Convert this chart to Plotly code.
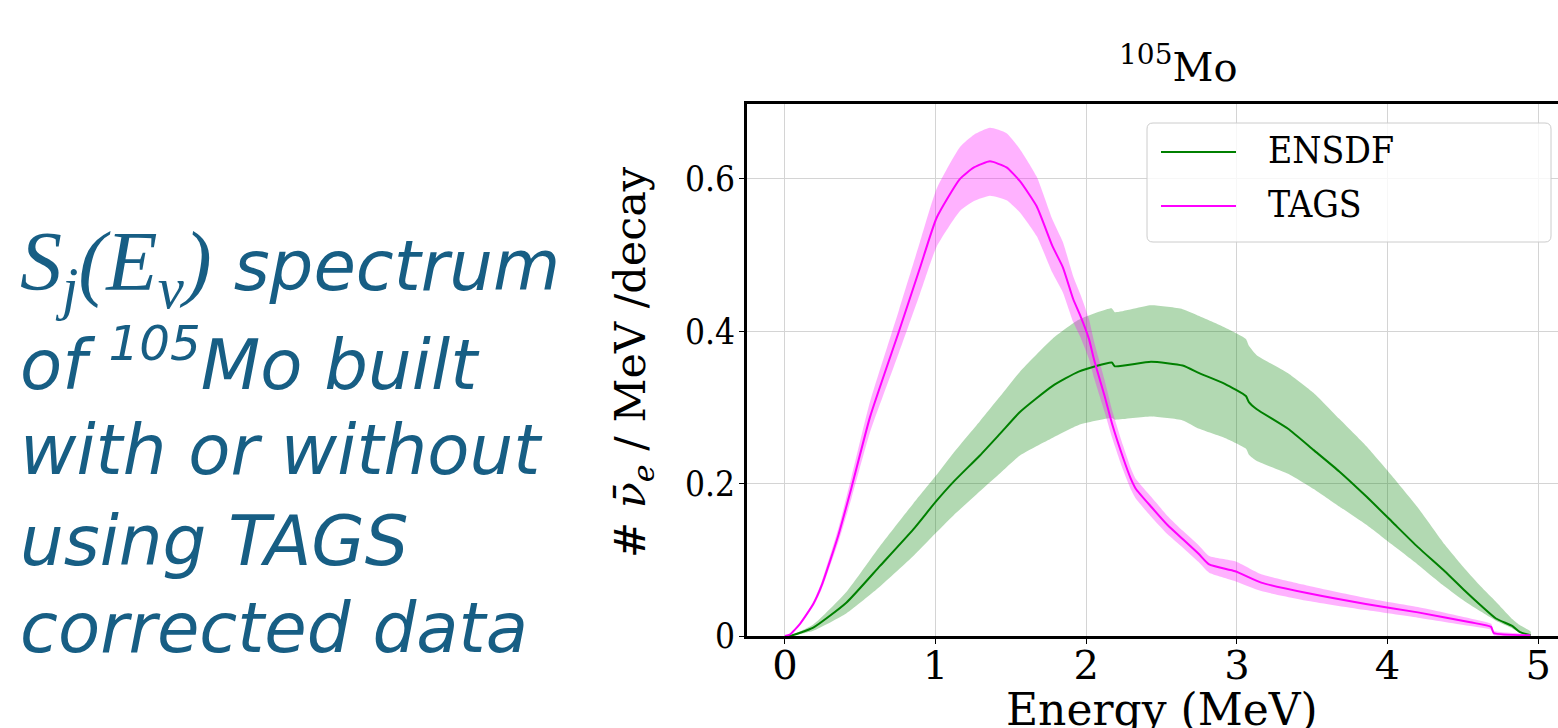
import plotly.graph_objects as go

# ---------------- data ----------------
E_ensdf = [0.0, 0.04, 0.188, 0.409, 0.631, 0.852, 1.0, 1.117, 1.294, 1.43,
           1.56, 1.775, 1.95, 2.17, 2.19, 2.43, 2.64, 2.75, 2.92, 3.06,
           3.08, 3.13, 3.34, 3.51, 3.68, 3.86, 4.03, 4.20, 4.38, 4.51,
           4.62, 4.72, 4.83, 4.88, 4.95]
ensdf = [0, 0.0005, 0.011, 0.044, 0.092, 0.140, 0.176, 0.202, 0.237, 0.266,
         0.294, 0.328, 0.347, 0.359, 0.354, 0.360, 0.355, 0.345, 0.331, 0.315,
         0.307, 0.298, 0.272, 0.244, 0.216, 0.183, 0.150, 0.117, 0.085, 0.060,
         0.040, 0.023, 0.013, 0.005, 0.001]
ensdf_lo = [0, 0.0003, 0.007, 0.030, 0.065, 0.105, 0.135, 0.158, 0.190, 0.214,
            0.237, 0.260, 0.277, 0.286, 0.284, 0.288, 0.283, 0.272, 0.260, 0.246,
            0.238, 0.230, 0.213, 0.193, 0.170, 0.146, 0.120, 0.094, 0.065, 0.046,
            0.032, 0.020, 0.010, 0.004, 0.000]
ensdf_hi = [0, 0.0008, 0.015, 0.058, 0.118, 0.174, 0.210, 0.240, 0.282, 0.315,
            0.347, 0.390, 0.415, 0.430, 0.425, 0.434, 0.429, 0.420, 0.405, 0.390,
            0.381, 0.369, 0.345, 0.319, 0.285, 0.249, 0.210, 0.169, 0.120, 0.089,
            0.065, 0.045, 0.022, 0.014, 0.006]

E_tags = [0.0, 0.033, 0.10, 0.188, 0.243, 0.354, 0.442, 0.564, 0.757, 0.896,
          1.007, 1.162, 1.255, 1.361, 1.471, 1.56, 1.671, 1.775, 1.845, 1.914,
          1.966, 2.018, 2.053, 2.122, 2.174, 2.243, 2.295, 2.330, 2.434, 2.538,
          2.642, 2.746, 2.816, 2.989, 3.162, 3.474, 3.856, 4.202, 4.55, 4.688,
          4.705, 4.948]
tags = [0, 0.002, 0.016, 0.042, 0.066, 0.132, 0.195, 0.287, 0.400, 0.483,
        0.549, 0.600, 0.615, 0.623, 0.615, 0.597, 0.564, 0.512, 0.484, 0.442,
        0.418, 0.390, 0.362, 0.315, 0.277, 0.235, 0.207, 0.193, 0.169, 0.146,
        0.127, 0.108, 0.094, 0.085, 0.070, 0.056, 0.042, 0.031, 0.018, 0.012,
        0.004, 0.001]
tags_lo = [0, 0.002, 0.015, 0.039, 0.061, 0.123, 0.181, 0.267, 0.372, 0.449,
           0.511, 0.558, 0.571, 0.578, 0.572, 0.556, 0.525, 0.477, 0.451, 0.412,
           0.390, 0.364, 0.338, 0.294, 0.259, 0.219, 0.193, 0.180, 0.156, 0.134,
           0.116, 0.097, 0.083, 0.072, 0.059, 0.046, 0.034, 0.024, 0.013, 0.008,
           0.001, 0.000]
tags_hi = [0, 0.002, 0.017, 0.045, 0.071, 0.141, 0.209, 0.307, 0.428, 0.517,
           0.587, 0.642, 0.658, 0.667, 0.660, 0.639, 0.603, 0.547, 0.517, 0.472,
           0.446, 0.416, 0.386, 0.336, 0.295, 0.251, 0.221, 0.206, 0.182, 0.158,
           0.138, 0.119, 0.105, 0.098, 0.081, 0.066, 0.050, 0.038, 0.023, 0.016,
           0.007, 0.002]

x_ticks = [0, 1, 2, 3, 4, 5]
y_ticks = [0, 0.2, 0.4, 0.6]
y_ticktext = ["0", "0.2", "0.4", "0.6"]
series_names = ["ENSDF", "TAGS"]

# ---------------- layout helpers ----------------
W, H = 1558, 728
L, R, T, B = 747, 0, 104, 92
PW, PH = W - L - R, H - T - B


def px(x):
    return (x - L) / PW


def py(y):
    return (H - B - y) / PH


GREEN = "#008000"
MAGENTA = "#ff00ff"
SERIF = "DejaVu Serif"
SERIF_C = "DejaVu Serif Condensed"
SPL = dict(shape="spline", smoothing=0.5)

fig = go.Figure()

# bands
fig.add_trace(go.Scatter(x=E_ensdf + E_ensdf[::-1], y=ensdf_hi + ensdf_lo[::-1],
                         fill="toself", fillcolor="rgba(0,128,0,0.3)",
                         line=dict(width=0, **SPL),
                         mode="lines", hoverinfo="skip", showlegend=False))
fig.add_trace(go.Scatter(x=E_tags + E_tags[::-1], y=tags_hi + tags_lo[::-1],
                         fill="toself", fillcolor="rgba(255,0,255,0.3)",
                         line=dict(width=0, **SPL),
                         mode="lines", hoverinfo="skip", showlegend=False))
# central lines
fig.add_trace(go.Scatter(x=E_ensdf, y=ensdf, mode="lines", name=series_names[0],
                         line=dict(color=GREEN, width=2, **SPL), showlegend=False))
fig.add_trace(go.Scatter(x=E_tags, y=tags, mode="lines", name=series_names[1],
                         line=dict(color=MAGENTA, width=2, **SPL), showlegend=False))

fig.update_layout(
    width=W, height=H,
    margin=dict(l=L, r=R, t=T, b=B),
    paper_bgcolor="white", plot_bgcolor="white",
    showlegend=False,
)
fig.update_xaxes(range=[-0.252, 5.132], tickvals=x_ticks,
                 showgrid=True, gridcolor="#d4d4d4", gridwidth=1,
                 showline=True, linewidth=3, linecolor="black", mirror=True,
                 ticks="outside", ticklen=5, tickcolor="black", tickwidth=1,
                 ticklabelstandoff=-13,
                 tickfont=dict(family=SERIF, size=40, color="black"),
                 zeroline=False)
fig.update_yaxes(range=[0, 0.6983], tickvals=y_ticks, ticktext=y_ticktext,
                 showgrid=True, gridcolor="#d4d4d4", gridwidth=1,
                 showline=True, linewidth=3, linecolor="black",
                 ticks="outside", ticklen=5, tickcolor="black", tickwidth=1,
                 ticklabelstandoff=-3,
                 tickfont=dict(family=SERIF_C, size=35, color="black"),
                 zeroline=False)

ann = []
# title
ann.append(dict(text="<sup>105</sup>Mo", x=px(1178), y=py(64), xref="paper", yref="paper",
                xanchor="center", yanchor="middle", showarrow=False,
                font=dict(family=SERIF, size=40, color="black")))
# x axis title
ann.append(dict(text="Energy (MeV)", x=px(1162), y=py(682), xref="paper", yref="paper",
                xanchor="center", yanchor="top", showarrow=False,
                font=dict(family=SERIF, size=44, color="black")))
# y axis title
ann.append(dict(text="# <i>ν̄</i><sub><i>e</i></sub> / MeV /decay", x=px(633), y=py(362),
                xref="paper", yref="paper", textangle=-90,
                xanchor="center", yanchor="middle", showarrow=False,
                font=dict(family=SERIF, size=43, color="black")))

# legend (drawn manually)
lx0, lx1, ly0, ly1, rr = 1147, 1551, 123, 242, 6
path = (f"M {px(lx0 + rr)},{py(ly0)} L {px(lx1 - rr)},{py(ly0)} "
        f"Q {px(lx1)},{py(ly0)} {px(lx1)},{py(ly0 + rr)} "
        f"L {px(lx1)},{py(ly1 - rr)} Q {px(lx1)},{py(ly1)} {px(lx1 - rr)},{py(ly1)} "
        f"L {px(lx0 + rr)},{py(ly1)} Q {px(lx0)},{py(ly1)} {px(lx0)},{py(ly1 - rr)} "
        f"L {px(lx0)},{py(ly0 + rr)} Q {px(lx0)},{py(ly0)} {px(lx0 + rr)},{py(ly0)} Z")
shapes = [dict(type="path", path=path, xref="paper", yref="paper",
               fillcolor="rgba(255,255,255,0.8)", line=dict(color="#cccccc", width=1),
               layer="above")]
for name, col, yy in [(series_names[0], GREEN, 152), (series_names[1], MAGENTA, 206)]:
    shapes.append(dict(type="line", x0=px(1161), x1=px(1236), y0=py(yy), y1=py(yy),
                       xref="paper", yref="paper", line=dict(color=col, width=2)))
    ann.append(dict(text=name, x=px(1266), y=py(yy - 2), xref="paper", yref="paper",
                    xanchor="left", yanchor="middle", showarrow=False,
                    font=dict(family=SERIF_C, size=37, color="black")))

# left-side explanatory text
TXT = "#175e84"
MATH = "Liberation Serif"
lines = [
    (f"<span style='font-family:{MATH};font-size:84px'><i>S</i><sub><i>j</i></sub>(<i>E</i><sub><i>ν</i></sub>)</span> spectrum", 268),
    ("of <sup>105</sup>Mo built", 360),
    ("with or without", 450),
    ("using TAGS", 541),
    ("corrected data", 628),
]
for txt, yc in lines:
    ann.append(dict(text=f"<i>{txt}</i>", x=px(18), y=py(yc), xref="paper", yref="paper",
                    xanchor="left", yanchor="middle", showarrow=False,
                    font=dict(family="DejaVu Sans", size=69, color=TXT)))

fig.update_layout(annotations=ann, shapes=shapes)
fig.write_html("out.html")
